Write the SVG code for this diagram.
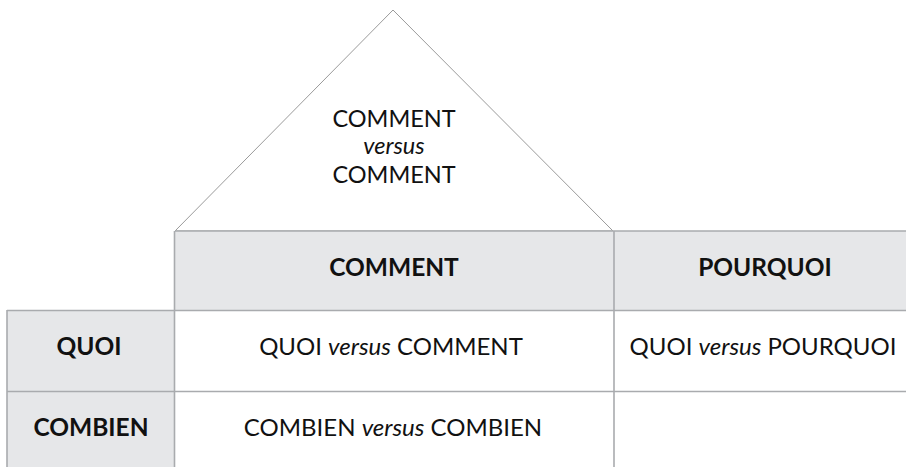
<svg xmlns="http://www.w3.org/2000/svg" width="906" height="467" viewBox="0 0 906 467">
<style>
.hd{fill:#e6e7e9}
.ln{stroke:#a9abae;stroke-width:1.6;fill:none}
.tri{stroke:#9a9a9a;stroke-width:1;fill:#fff}
text{font-family:Lato,"Open Sans","DejaVu Sans",sans-serif;font-size:24px;fill:#111;text-anchor:middle}
.t{font-size:23.5px}
.b{font-weight:bold;font-size:24.5px}
.i{font-style:italic}
</style>
<rect width="906" height="467" fill="#fff"/>
<g id="roof">
<polygon class="tri" points="393,10 175,231 613,231"/>
<text x="394" y="127" class="t">COMMENT</text>
<text x="394" y="154" class="t i">versus</text>
<text x="394" y="183" class="t">COMMENT</text>
</g>
<g id="header-comment">
<rect class="hd" x="175" y="231" width="439" height="79"/>
<text x="394" y="276" class="b">COMMENT</text>
</g>
<g id="header-pourquoi">
<rect class="hd" x="614" y="231" width="292" height="79"/>
<text x="765" y="276" class="b">POURQUOI</text>
</g>
<g id="row-quoi">
<rect class="hd" x="7" y="310" width="168" height="81"/>
<text x="89" y="355" class="b">QUOI</text>
</g>
<g id="row-combien">
<rect class="hd" x="7" y="391" width="168" height="76"/>
<text x="91" y="436" class="b">COMBIEN</text>
</g>
<g id="cell-quoi-comment">
<text x="391" y="355">QUOI <tspan class="i">versus</tspan> COMMENT</text>
</g>
<g id="cell-quoi-pourquoi">
<text x="763" y="355">QUOI <tspan class="i">versus</tspan> POURQUOI</text>
</g>
<g id="cell-combien-combien">
<text x="393" y="436">COMBIEN <tspan class="i">versus</tspan> COMBIEN</text>
</g>
<g id="connectors">
<line class="ln" x1="175" y1="231" x2="906" y2="231"/>
<line class="ln" x1="7" y1="310.5" x2="906" y2="310.5"/>
<line class="ln" x1="7" y1="391.5" x2="906" y2="391.5"/>
<line class="ln" x1="7" y1="310" x2="7" y2="467"/>
<line class="ln" x1="174.5" y1="231" x2="174.5" y2="467"/>
<line class="ln" x1="614" y1="231" x2="614" y2="467"/>
</g>
</svg>
